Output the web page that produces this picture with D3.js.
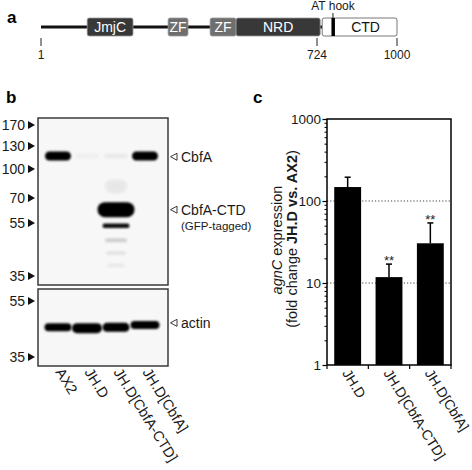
<!DOCTYPE html>
<meta charset="utf-8">
<style>
body { margin: 0; background: #fff; }
svg { display: block; font-family: "Liberation Sans", Arial, sans-serif; }
.lbl { font-size: 14px; fill: #1a1a1a; }
.panel { font-size: 17px; font-weight: bold; }
</style>
<svg width="472" height="470"></svg>
<script src="https://cdn.jsdelivr.net/npm/d3@7"></script>
<script>
// ---- panel a: CbfA domain map (residue numbers)
var domains = [
  {name: "JmjC", start: 122, end: 242, fill: "#383838"},
  {name: "ZF", start: 334, end: 386, fill: "#6e6e6e"},
  {name: "ZF", start: 444, end: 512, fill: "#6e6e6e"},
  {name: "NRD", start: 512, end: 735, fill: "#383838"},
  {name: "CTD", start: 742, end: 1000, fill: "#fff"}
];
var residueTicks = [1, 724, 1000];
var atHook = 779;

// ---- panel b: western blots
var lanes = ["AX2", "JH.D", "JH.D[CbfA-CTD]", "JH.D[CbfA]"];
var markersTop = [170, 130, 100, 70, 55, 35];
var markersBottom = [55, 35];
// lane, kDa, height, width, opacity
var bandsTop = [
  {lane: "AX2", kda: 117, h: 9, w: 26, o: 1},
  {lane: "JH.D[CbfA]", kda: 117, h: 9, w: 26, o: 1},
  {lane: "JH.D", kda: 117, h: 5, w: 24, o: 0.03},
  {lane: "JH.D[CbfA-CTD]", kda: 117, h: 5, w: 24, o: 0.05},
  {lane: "JH.D[CbfA-CTD]", kda: 82, h: 14, w: 22, o: 0.06},
  {lane: "JH.D[CbfA-CTD]", kda: 63, h: 15, w: 37, o: 1},
  {lane: "JH.D[CbfA-CTD]", kda: 54, h: 4.5, w: 27, o: 0.95},
  {lane: "JH.D[CbfA-CTD]", kda: 48.5, h: 3, w: 22, o: 0.22},
  {lane: "JH.D[CbfA-CTD]", kda: 43.7, h: 3, w: 20, o: 0.1},
  {lane: "JH.D[CbfA-CTD]", kda: 39, h: 3, w: 18, o: 0.07}
];
var bandsBottom = [
  {lane: "AX2", kda: 45.6, h: 8, w: 27, o: 1},
  {lane: "JH.D", kda: 45.3, h: 10, w: 30, o: 1},
  {lane: "JH.D[CbfA-CTD]", kda: 45.6, h: 9, w: 27, o: 1},
  {lane: "JH.D[CbfA]", kda: 46.4, h: 8, w: 29, o: 1}
];
var blotLabels = [
  {text: "CbfA", kda: 116, blot: "top"},
  {text: "CbfA-CTD", kda: 63, blot: "top"},
  {text: "actin", kda: 47.2, blot: "bottom"}
];

// ---- panel c: agnC expression
var strains = ["JH.D", "JH.D[CbfA-CTD]", "JH.D[CbfA]"];
var foldChange = [148, 11.8, 30.5];
var errors = [47, 5.2, 23.5];
var stars = ["", "**", "**"];
var yTicks = [1, 10, 100, 1000];
var gridLines = [10, 100];

var svg = d3.select("svg");

// ================= panel a
var ga = svg.append("g");
ga.append("text").attr("class", "panel").attr("x", 7).attr("y", 23).text("a");

var pos = d3.scaleLinear().domain([1, 724, 1000]).range([41, 317, 397]);
var bandY = 18, bandH = 18;

ga.append("line")
  .attr("x1", pos(1)).attr("x2", pos(742))
  .attr("y1", bandY + bandH / 2).attr("y2", bandY + bandH / 2)
  .attr("stroke", "#111").attr("stroke-width", 3);

var dom = ga.selectAll("g.dom").data(domains).enter().append("g").attr("class", "dom");
dom.append("rect")
  .attr("x", function(d) { return pos(d.start); })
  .attr("width", function(d) { return pos(d.end) - pos(d.start); })
  .attr("y", bandY).attr("height", bandH)
  .attr("rx", 2)
  .attr("fill", function(d) { return d.fill; })
  .attr("stroke", function(d) { return d.fill == "#fff" ? "#555" : "#999"; })
  .attr("stroke-width", 0.8);
dom.append("text")
  .attr("x", function(d) { return (pos(d.start) + pos(d.end)) / 2 + (d.name == "CTD" ? 6 : 0); })
  .attr("y", bandY + bandH / 2).attr("dy", "0.36em")
  .attr("text-anchor", "middle")
  .style("font-size", "14px")
  .attr("fill", function(d) { return d.fill == "#fff" ? "#111" : "#fff"; })
  .text(function(d) { return d.name; });

ga.append("rect")
  .attr("x", pos(atHook) - 1.5).attr("width", 3.5)
  .attr("y", bandY).attr("height", bandH).attr("fill", "#000");
ga.append("line")
  .attr("x1", pos(atHook)).attr("x2", pos(atHook))
  .attr("y1", 13).attr("y2", bandY)
  .attr("stroke", "#222").attr("stroke-width", 1);
ga.append("text").attr("x", pos(atHook)).attr("y", 10)
  .attr("text-anchor", "middle").style("font-size", "12px").attr("fill", "#1a1a1a")
  .text("AT hook");

var rt = ga.selectAll("g.rt").data(residueTicks).enter().append("g")
  .attr("transform", function(d) { return "translate(" + pos(d) + ",0)"; });
rt.append("line").attr("y1", 38).attr("y2", 46).attr("stroke", "#222");
rt.append("text").attr("y", 59).attr("text-anchor", "middle")
  .style("font-size", "12px").attr("fill", "#1a1a1a").text(function(d) { return d; });

// ================= panel b
var gb = svg.append("g");
gb.append("text").attr("class", "panel").attr("x", 6).attr("y", 103).text("b");

var defs = svg.append("defs");
defs.append("filter").attr("id", "blur").attr("x", "-30%").attr("y", "-80%")
  .attr("width", "160%").attr("height", "260%")
  .append("feGaussianBlur").attr("stdDeviation", 0.9);
defs.append("filter").attr("id", "blur2").attr("x", "-30%").attr("y", "-80%")
  .attr("width", "160%").attr("height", "260%")
  .append("feGaussianBlur").attr("stdDeviation", 1.6);

var laneX = d3.scalePoint().domain(lanes).range([58, 145]);
// gel migration, calibrated on the ladder
var kdaTop = d3.scaleLinear().domain(markersTop).range([125, 146, 169, 198, 223, 276]);
var kdaBottom = d3.scaleLinear().domain(markersBottom).range([301, 357]);

function drawBlot(y0, y1, markers, scale, bands) {
  gb.append("rect").attr("x", 38).attr("y", y0).attr("width", 130).attr("height", y1 - y0)
    .attr("fill", "#f7f7f7").attr("stroke", "#3a3a3a").attr("stroke-width", 1.5);
  var clipId = "clip" + y0;
  defs.append("clipPath").attr("id", clipId).append("rect")
    .attr("x", 39).attr("y", y0 + 1).attr("width", 128).attr("height", y1 - y0 - 2);
  var gBands = gb.append("g").attr("clip-path", "url(#" + clipId + ")");
  gBands.selectAll("rect").data(bands).enter().append("rect")
    .attr("x", function(d) { return laneX(d.lane) - d.w / 2; })
    .attr("y", function(d) { return scale(d.kda) - d.h / 2; })
    .attr("width", function(d) { return d.w; })
    .attr("height", function(d) { return d.h; })
    .attr("rx", function(d) { return d.h / 2; })
    .attr("fill", "#000")
    .attr("opacity", function(d) { return d.o; })
    .attr("filter", function(d) { return d.o < 0.5 ? "url(#blur2)" : "url(#blur)"; });

  var m = gb.selectAll(null).data(markers).enter().append("g")
    .attr("transform", function(d) { return "translate(0," + scale(d) + ")"; });
  m.append("text").attr("class", "lbl").attr("x", 25).attr("dy", "0.36em")
    .attr("text-anchor", "end").text(function(d) { return d; });
  m.append("path").attr("d", "M28,-4L35,0L28,4Z").attr("fill", "#111");
}
drawBlot(118, 285, markersTop, kdaTop, bandsTop);
drawBlot(289, 366, markersBottom, kdaBottom, bandsBottom);

var bl = gb.selectAll(null).data(blotLabels).enter().append("g")
  .attr("transform", function(d) {
    var s = d.blot == "top" ? kdaTop : kdaBottom;
    return "translate(0," + s(d.kda) + ")";
  });
bl.append("path").attr("d", "M170.5,0L177,-3.5L177,3.5Z")
  .attr("fill", "none").attr("stroke", "#222").attr("stroke-width", 0.9);
bl.append("text").attr("class", "lbl").attr("x", 181).attr("dy", "0.36em")
  .text(function(d) { return d.text; });
gb.append("text").attr("x", 181).attr("y", kdaTop(63) + 20)
  .style("font-size", "11.5px").attr("fill", "#1a1a1a").text("(GFP-tagged)");

gb.selectAll(null).data(lanes).enter().append("text")
  .attr("class", "lbl").style("font-size", "14.5px")
  .attr("transform", function(d) { return "translate(" + (laneX(d) - 3) + ",372) rotate(58)"; })
  .text(function(d) { return d; });

// ================= panel c
var gc = svg.append("g");
gc.append("text").attr("class", "panel").attr("x", 253).attr("y", 103).text("c");

var plotL = 327, plotR = 451, plotT = 119, plotB = 365;
var x = d3.scaleBand().domain(strains).range([plotL, plotR])
  .paddingInner(0.35).paddingOuter(0.175);
var y = d3.scaleLog().domain([1, 1000]).range([plotB, plotT]);

gc.selectAll("line.grid").data(gridLines).enter().append("line")
  .attr("x1", plotL).attr("x2", plotR)
  .attr("y1", function(d) { return y(d); }).attr("y2", function(d) { return y(d); })
  .attr("stroke", "#444").attr("stroke-width", 1).attr("stroke-dasharray", "1.2,2");

gc.selectAll("rect.bar").data(strains).enter().append("rect")
  .attr("x", function(d) { return x(d); })
  .attr("width", x.bandwidth())
  .attr("y", function(d, i) { return y(foldChange[i]); })
  .attr("height", function(d, i) { return plotB - y(foldChange[i]); })
  .attr("fill", "#000");

var eb = gc.selectAll("g.err").data(strains).enter().append("g")
  .attr("transform", function(d) { return "translate(" + (x(d) + x.bandwidth() / 2) + ",0)"; });
eb.append("line")
  .attr("y1", function(d, i) { return y(foldChange[i]); })
  .attr("y2", function(d, i) { return y(foldChange[i] + errors[i]); })
  .attr("stroke", "#000").attr("stroke-width", 1.5);
eb.append("line").attr("x1", -3).attr("x2", 3)
  .attr("y1", function(d, i) { return y(foldChange[i] + errors[i]); })
  .attr("y2", function(d, i) { return y(foldChange[i] + errors[i]); })
  .attr("stroke", "#000").attr("stroke-width", 1.5);
eb.append("text")
  .attr("y", function(d, i) { return y(foldChange[i] + errors[i]) + 1; })
  .attr("text-anchor", "middle").style("font-size", "13px").attr("fill", "#222")
  .text(function(d, i) { return stars[i]; });

// frame
gc.append("rect").attr("x", plotL).attr("y", plotT)
  .attr("width", plotR - plotL).attr("height", plotB - plotT)
  .attr("fill", "none").attr("stroke", "#000").attr("stroke-width", 1.5);

// left axis
var minor = y.ticks().filter(function(t) { return yTicks.indexOf(t) < 0; });
gc.append("g").attr("transform", "translate(" + plotL + ",0)")
  .call(d3.axisLeft(y).tickValues(minor).tickSize(2.5).tickFormat(""))
  .call(function(g) { g.select(".domain").remove(); });
var ay = gc.append("g").attr("transform", "translate(" + plotL + ",0)")
  .call(d3.axisLeft(y).tickValues(yTicks).tickSize(4.5).tickPadding(1.5).tickFormat(d3.format("d")));
ay.select(".domain").remove();
ay.selectAll("line").attr("stroke-width", 1.2);
ay.selectAll("text").attr("class", "lbl").style("font-size", "13.5px")
  .attr("font-family", null);

// bottom ticks at category boundaries
var bounds = d3.range(strains.length + 1).map(function(i) { return plotL + i * x.step(); });
gc.selectAll("line.xt").data(bounds).enter().append("line")
  .attr("x1", function(d) { return d; }).attr("x2", function(d) { return d; })
  .attr("y1", plotB).attr("y2", plotB + 4)
  .attr("stroke", "#000").attr("stroke-width", 1.2);

gc.selectAll("text.cat").data(strains).enter().append("text")
  .attr("class", "lbl").style("font-size", "14px")
  .attr("transform", function(d) { return "translate(" + (x(d) + x.bandwidth() / 2 - 6) + ",373) rotate(58)"; })
  .text(function(d) { return d; });

// y title
var yt = gc.append("text").attr("class", "lbl").style("font-size", "14.5px").attr("text-anchor", "middle")
  .attr("transform", "translate(282,240) rotate(-90)");
yt.append("tspan").attr("font-style", "italic").text("agnC");
yt.append("tspan").text(" expression");
var yt2 = gc.append("text").attr("class", "lbl").style("font-size", "14.5px").attr("text-anchor", "middle")
  .attr("transform", "translate(297,239) rotate(-90)");
yt2.append("tspan").text("(fold change ");
yt2.append("tspan").attr("font-weight", "bold").text("JH.D vs. AX2");
yt2.append("tspan").text(")");
</script>
